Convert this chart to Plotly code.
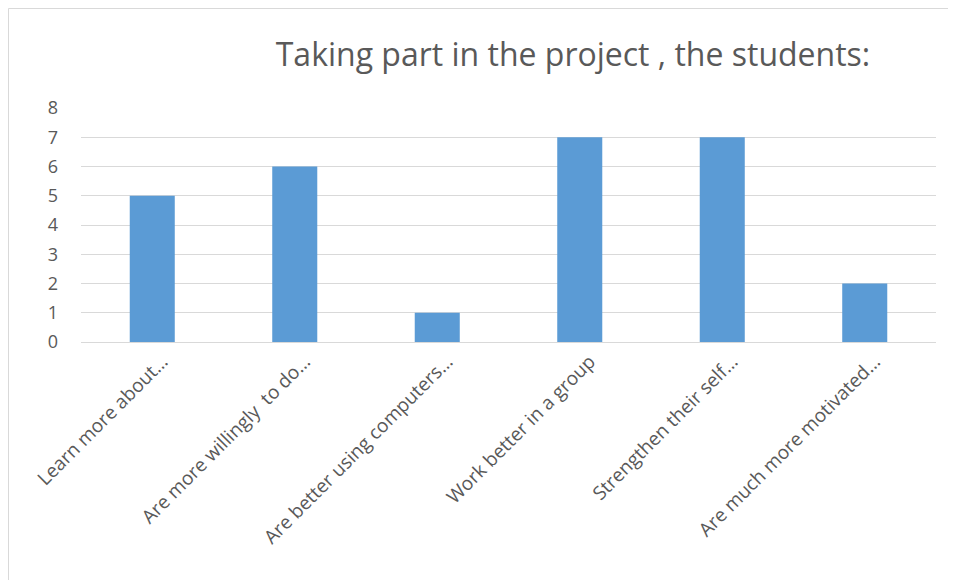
import plotly.graph_objects as go

categories = ["Learn more about…", "Are more willingly  to do…", "Are better using computers…",
              "Work better in a group", "Strengthen their self…", "Are much more motivated…"]
values = [5, 6, 1, 7, 7, 2]
y_ticks = [0, 1, 2, 3, 4, 5, 6, 7, 8]

# page body has an 8px margin, so the figure is sized/offset accordingly
W, H = 948, 572
L, R, T, B = 73, 20, 100, 238

fig = go.Figure(go.Bar(x=categories, y=values, marker=dict(color="#5B9BD5", line=dict(width=0))))

fig.update_layout(
    width=W, height=H,
    margin=dict(l=L, r=R, t=T, b=B),
    paper_bgcolor="white", plot_bgcolor="white",
    bargap=0.684,
    showlegend=False,
    font=dict(family="Open Sans", color="#595959"),
    title=dict(text="Taking part in the project , the students:",
               x=565 / W, xanchor="center", y=1 - 47 / H, yanchor="middle",
               font=dict(size=32, color="#595959", family="Open Sans")),
)
fig.update_xaxes(tickangle=-45, tickfont=dict(size=19, color="#595959"),
                 showline=True, linecolor="#d9d9d9", linewidth=1, ticks="",
                 showgrid=False, ticklabelshift=10)
fig.update_yaxes(range=[0, 8], tickvals=y_ticks, tickfont=dict(size=18, color="#595959"),
                 showgrid=True, gridcolor="#d9d9d9", gridwidth=1, zeroline=False,
                 showline=False, ticks="", ticklabelstandoff=22)

fig.add_shape(type="rect", xref="paper", yref="paper",
              x0=-(L - 0.5) / (W - L - R), x1=1 + (R + 5) / (W - L - R),
              y0=-(B + 5) / (H - T - B), y1=1 + (T - 0.5) / (H - T - B),
              line=dict(color="#d9d9d9", width=1), fillcolor="rgba(0,0,0,0)", layer="below")

fig.write_html("out.html")
